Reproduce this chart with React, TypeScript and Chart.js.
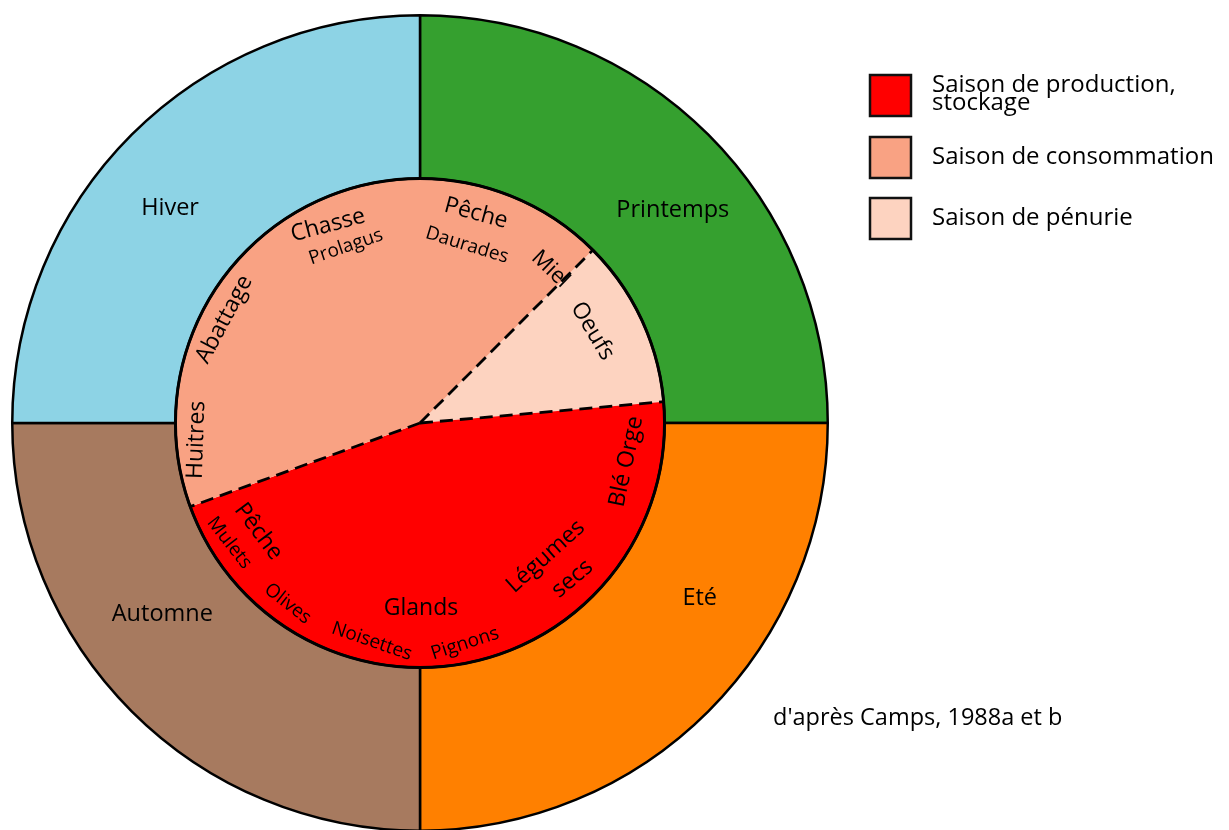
import React, { useEffect, useRef } from "react";
import { Chart, registerables } from "chart.js";

Chart.register(...registerables);

// ---- Data ----
// Outer ring: the four seasons (equal quarters of the year, in months)
const seasonLabels = ["Printemps", "Eté", "Automne", "Hiver"];
const seasonShares = [3, 3, 3, 3];
const seasonColors = ["#35a02f", "#ff8000", "#a77a5f", "#8dd3e5"];

// Inner pie: phases of the food year (degrees of the annual cycle, clockwise from 45°)
const phaseLabels = ["Saison de pénurie", "Saison de production, stockage", "Saison de consommation"];
const phaseDegrees = [40, 165, 155];
const phaseRotation = 45;
const phaseColors = ["#fdd3c0", "#ff0000", "#f9a283"];

// Legend entries (index into phase arrays) and their text lines
const legendOrder = [1, 2, 0];
const legendLines = [["Saison de production,", "stockage"], ["Saison de consommation"], ["Saison de pénurie"]];

const creditText = "d'après Camps, 1988a et b";

// Resource annotations inside the inner pie
const resourceTexts = [
  "Chasse", "Prolagus", "Abattage", "Huitres", "Pêche", "Daurades", "Miel", "Oeufs",
  "Pêche", "Mulets", "Olives", "Noisettes", "Glands", "Pignons", "Légumes", "secs", "Blé Orge",
];

// ---- Layout of annotations (relative to pie centre, in units of the ring radius) ----
const resourcePlacement: [number, number, number, number][] = [
  // fx, fy, rotation(deg), font size
  [-0.376, -0.808, -15, 23],
  [-0.303, -0.72, -19, 19],
  [-0.8, -0.424, -62, 23],
  [-0.914, 0.069, -88, 23],
  [0.229, -0.857, 15, 23],
  [0.192, -0.727, 17, 19],
  [0.533, -0.629, 44, 22],
  [0.705, -0.376, 59, 23],
  [-0.661, 0.444, 53, 23],
  [-0.78, 0.49, 52, 19],
  [-0.541, 0.739, 38, 19],
  [-0.197, 0.893, 19, 19],
  [0.004, 0.759, 0, 23],
  [0.184, 0.902, -18, 19],
  [0.514, 0.546, -42, 23],
  [0.623, 0.637, -40, 23],
  [0.844, 0.158, -78, 23],
];
const seasonLabelPlacement: [number, number][] = [
  [0.62, -0.522],
  [0.686, 0.429],
  [-0.632, 0.468],
  [-0.613, -0.527],
];

const FONT = "'Open Sans', 'DejaVu Sans', sans-serif";
const INK = "#000";

const overlayPlugin = {
  id: "overlay",
  afterDatasetsDraw(chart: any) {
    const ctx: CanvasRenderingContext2D = chart.ctx;
    const inner = chart.getDatasetMeta(1).data as any[];
    const { x, y, outerRadius } = inner[0].getProps(["x", "y", "outerRadius"], true);
    ctx.save();
    ctx.strokeStyle = "#000";
    ctx.lineWidth = 2.8;
    ctx.setLineDash([13, 7]);
    inner.forEach((arc: any) => {
      const { startAngle } = arc.getProps(["startAngle"], true);
      ctx.beginPath();
      ctx.moveTo(x, y);
      ctx.lineTo(x + outerRadius * Math.cos(startAngle), y + outerRadius * Math.sin(startAngle));
      ctx.stroke();
    });
    ctx.setLineDash([]);
    ctx.lineWidth = 3;
    ctx.beginPath();
    ctx.arc(x, y, outerRadius, 0, Math.PI * 2);
    ctx.stroke();
    ctx.restore();
  },
  afterDraw(chart: any) {
    const ctx: CanvasRenderingContext2D = chart.ctx;
    const outer = chart.getDatasetMeta(0).data as any[];
    const inner = chart.getDatasetMeta(1).data as any[];
    const o = outer[0].getProps(["x", "y", "outerRadius"], true);
    const i0 = inner[0].getProps(["x", "y", "outerRadius"], true);
    ctx.save();
    ctx.fillStyle = INK;
    ctx.textAlign = "center";
    ctx.textBaseline = "middle";
    // season labels
    ctx.font = `23.5px ${FONT}`;
    seasonLabels.forEach((lab, k) => {
      const [fx, fy] = seasonLabelPlacement[k];
      ctx.fillText(lab, o.x + fx * o.outerRadius, o.y + fy * o.outerRadius);
    });
    // resource labels
    resourceTexts.forEach((t, k) => {
      const [fx, fy, rot, size] = resourcePlacement[k];
      ctx.save();
      ctx.translate(i0.x + fx * i0.outerRadius, i0.y + fy * i0.outerRadius);
      ctx.rotate((rot * Math.PI) / 180);
      ctx.font = `${size}px ${FONT}`;
      ctx.fillText(t, 0, 0);
      ctx.restore();
    });
    // legend
    const boxX = 870;
    const boxTops = [75, 137, 198];
    const box = 41;
    ctx.textAlign = "left";
    ctx.textBaseline = "alphabetic";
    ctx.font = `24px ${FONT}`;
    legendOrder.forEach((pi, k) => {
      ctx.fillStyle = phaseColors[pi];
      ctx.fillRect(boxX, boxTops[k], box, box);
      ctx.strokeStyle = "#111";
      ctx.lineWidth = 2.5;
      ctx.strokeRect(boxX, boxTops[k], box, box);
      ctx.fillStyle = INK;
      const lines = legendLines[k];
      if (lines.length === 2) {
        ctx.fillText(lines[0], 932, boxTops[k] + 17);
        ctx.fillText(lines[1], 932, boxTops[k] + 35);
      } else {
        ctx.fillText(lines[0], 932, boxTops[k] + 27);
      }
    });
    // credit
    ctx.font = `23.5px ${FONT}`;
    ctx.fillText(creditText, 773, 725);
    ctx.restore();
  },
};

export default function App() {
  const ref = useRef<HTMLCanvasElement | null>(null);
  useEffect(() => {
    if (!ref.current) return;
    const chart = new Chart(ref.current, {
      type: "doughnut",
      data: {
        labels: seasonLabels,
        datasets: [
          {
            label: "Saisons",
            data: seasonShares,
            backgroundColor: seasonColors,
            borderColor: "#000",
            borderWidth: 2.5,
            hoverBorderWidth: 2.5,
            weight: 163.5,
          } as any,
          {
            label: "Ressources",
            data: phaseDegrees,
            backgroundColor: phaseColors,
            borderWidth: 0,
            hoverBorderWidth: 0,
            weight: 245,
            rotation: phaseRotation,
          } as any,
        ],
      },
      options: {
        responsive: false,
        animation: false,
        devicePixelRatio: 1,
        cutout: 0,
        events: [],
        layout: { padding: { left: 11, top: 14, right: 400, bottom: 8 } },
        plugins: { legend: { display: false }, tooltip: { enabled: false } },
      } as any,
      plugins: [overlayPlugin],
    });
    return () => chart.destroy();
  }, []);
  return (
    <div style={{ position: "fixed", left: 0, top: 0, width: 1229, height: 830, overflow: "hidden", background: "#fff" }}>
      <canvas ref={ref} width={1229} height={840} style={{ display: "block" }} />
    </div>
  );
}
